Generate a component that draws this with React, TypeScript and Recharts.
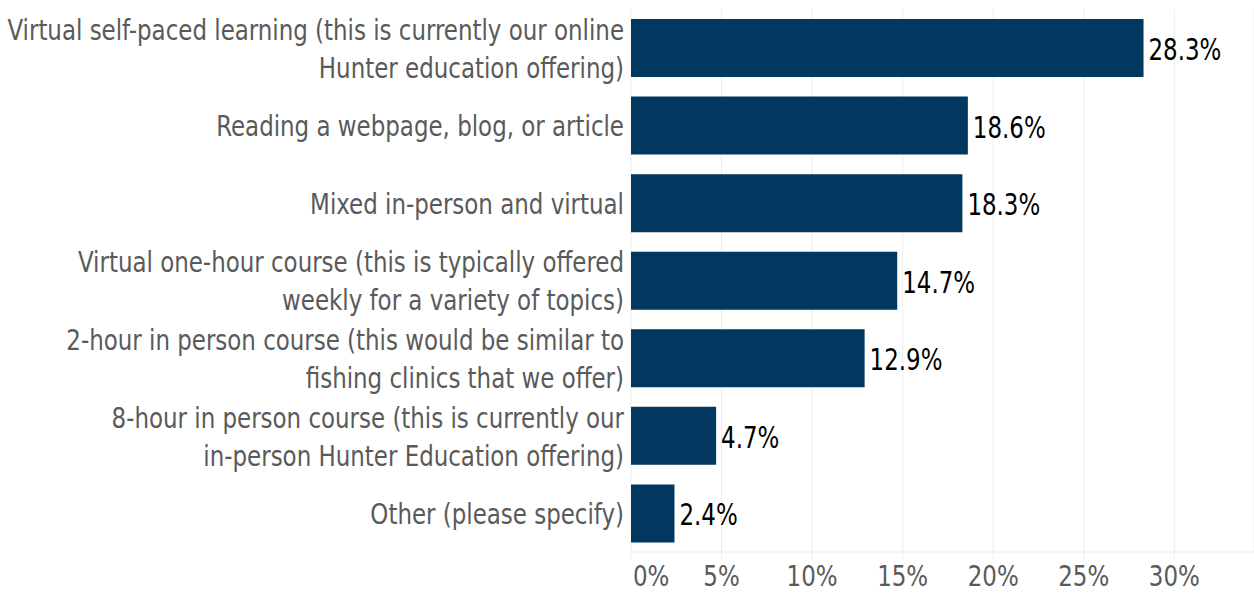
import React from 'react';
import { BarChart, Bar, XAxis, YAxis, CartesianGrid, LabelList } from 'recharts';

// Category labels, line breaks as in the reference
const categories: string[][] = [
  ['Virtual self-paced learning (this is currently our online', 'Hunter education offering)'],
  ['Reading a webpage, blog, or article'],
  ['Mixed in-person and virtual'],
  ['Virtual one-hour course (this is typically offered', 'weekly for a variety of topics)'],
  ['2-hour in person course (this would be similar to', 'fishing clinics that we offer)'],
  ['8-hour in person course (this is currently our', 'in-person Hunter Education offering)'],
  ['Other (please specify)'],
];

const shares = [28.3, 18.6, 18.3, 14.7, 12.9, 4.7, 2.4];

const xTicks = [0, 5, 10, 15, 20, 25, 30];

const FONT = '"DejaVu Sans Condensed", "DejaVu Sans", sans-serif';
const BAR_COLOR = '#02375f';
const GREY = '#5a5a5a';

const data = categories.map((lines, i) => ({
  name: lines.join('\n'),
  value: shares[i],
}));

// squeeze text horizontally around its anchor point to mimic the condensed face
const squeeze = (x: number, s: number) => `translate(${x} 0) scale(${s} 1) translate(${-x} 0)`;

const CategoryTick = (props: any) => {
  const { x, y, payload } = props;
  const lines: string[] = String(payload.value).split('\n');
  const lineHeight = 38;
  const startDy = -((lines.length - 1) / 2) * lineHeight + 11;
  const tx = x + 1;
  return (
    <text
      x={tx}
      y={y}
      textAnchor="end"
      fill={GREY}
      fontSize={29}
      fontFamily={FONT}
      transform={squeeze(tx, 0.88)}
    >
      {lines.map((line, i) => (
        <tspan key={i} x={tx} dy={i === 0 ? startDy : lineHeight}>
          {line}
        </tspan>
      ))}
    </text>
  );
};

const PercentTick = (props: any) => {
  const { x, y, payload, index } = props;
  // first tick label sits just right of the axis start
  const first = index === 0;
  const tx = first ? x + 2 : x;
  return (
    <text
      x={tx}
      y={y + 25}
      textAnchor={first ? 'start' : 'middle'}
      fill={GREY}
      fontSize={29}
      fontFamily={FONT}
      transform={squeeze(tx, 0.88)}
    >
      {`${payload.value}%`}
    </text>
  );
};

const ValueLabel = (props: any) => {
  const { x, y, width, height, value } = props;
  const tx = x + width + 5;
  return (
    <text
      x={tx}
      y={y + height / 2 + 12}
      fill="#000"
      fontSize={30}
      fontFamily={FONT}
      transform={squeeze(tx, 0.85)}
    >
      {`${Number(value).toFixed(1)}%`}
    </text>
  );
};

export default function App() {
  return (
    <div style={{ position: 'absolute', left: 0, top: 0, background: '#fff' }}>
      <BarChart
        width={1254}
        height={596}
        data={data}
        layout="vertical"
        margin={{ top: 9, right: 0, bottom: 0, left: 0 }}
        barSize={58}
      >
        <CartesianGrid horizontal={false} stroke="#ececec" />
        <XAxis
          type="number"
          domain={[0, 34.4]}
          ticks={xTicks}
          height={44}
          axisLine={{ stroke: '#ececec' }}
          tickLine={{ stroke: '#ececec' }}
          tickSize={7}
          tick={<PercentTick />}
        />
        <YAxis
          type="category"
          dataKey="name"
          width={631}
          axisLine={false}
          tickLine={false}
          interval={0}
          tick={<CategoryTick />}
        />
        <Bar dataKey="value" fill={BAR_COLOR} isAnimationActive={false}>
          <LabelList dataKey="value" content={<ValueLabel />} />
        </Bar>
      </BarChart>
    </div>
  );
}
